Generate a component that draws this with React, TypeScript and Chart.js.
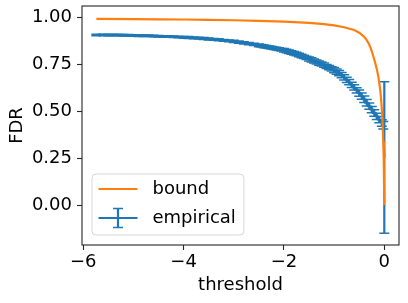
import { useEffect, useRef } from "react";
import { Chart, registerables } from "chart.js";

Chart.register(...registerables);

const seriesLabels = ["bound", "empirical"];
const seriesColors = ["#ff7f0e", "#1f77b4"];

const boundThreshold = [
  -5.74, -5.0, -4.5, -4.0, -3.5, -3.0, -2.5, -2.0, -1.5, -1.2, -1.0, -0.8, -0.6, -0.5,
  -0.4, -0.35, -0.3, -0.25, -0.2, -0.15, -0.12, -0.1, -0.08, -0.06, -0.04, -0.02, -0.01, 0,
];
const boundFDR = [
  0.991, 0.99, 0.989, 0.988, 0.986, 0.984, 0.981, 0.977, 0.97, 0.963, 0.957, 0.947, 0.932, 0.918,
  0.896, 0.878, 0.855, 0.82, 0.775, 0.725, 0.685, 0.65, 0.61, 0.55, 0.47, 0.34, 0.22, 0.0,
];

const empThreshold = [
  -5.74, -5.6, -5.5, -5.4, -5.3, -5.2, -5.1, -5.0, -4.9, -4.8, -4.7, -4.6, -4.5, -4.4, -4.3, -4.2, -4.1,
  -4.0, -3.9, -3.8, -3.7, -3.6, -3.5, -3.4, -3.3, -3.2, -3.1,
  -3.0, -2.9, -2.8, -2.7, -2.6,
  -2.5, -2.45, -2.4, -2.35, -2.3, -2.25, -2.2, -2.15, -2.1, -2.05,
  -2.0, -1.95, -1.9, -1.85, -1.8, -1.75, -1.7, -1.65, -1.6, -1.55,
  -1.5, -1.45, -1.4, -1.35, -1.3, -1.25, -1.2, -1.15, -1.1, -1.05,
  -1.0, -0.95, -0.9, -0.85, -0.8, -0.75, -0.7, -0.65, -0.6, -0.55,
  -0.5, -0.45, -0.4, -0.35, -0.3, -0.25, -0.2, -0.15, -0.1, -0.05,
  -0.02, 0,
];
const empFDR = [
  0.906, 0.906, 0.905, 0.905, 0.905, 0.904, 0.904, 0.903, 0.902, 0.902, 0.901, 0.9, 0.899, 0.898, 0.897, 0.896, 0.895,
  0.893, 0.892, 0.89, 0.889, 0.887, 0.884, 0.882, 0.88, 0.877, 0.874,
  0.871, 0.868, 0.864, 0.86, 0.855,
  0.85, 0.848, 0.845, 0.843, 0.84, 0.838, 0.835, 0.833, 0.83, 0.827,
  0.824, 0.82, 0.816, 0.812, 0.808, 0.804, 0.799, 0.794, 0.789, 0.784,
  0.778, 0.773, 0.767, 0.762, 0.756, 0.751, 0.745, 0.738, 0.732, 0.725,
  0.718, 0.71, 0.702, 0.692, 0.68, 0.667, 0.654, 0.64, 0.626, 0.611,
  0.596, 0.58, 0.563, 0.545, 0.527, 0.508, 0.49, 0.472, 0.455, 0.437,
  0.425, 0.253,
];
const empErr = [
  0.004, 0.004, 0.004, 0.004, 0.004, 0.004, 0.004, 0.004, 0.004, 0.004, 0.004, 0.004, 0.004, 0.004, 0.004, 0.004, 0.004,
  0.005, 0.005, 0.005, 0.005, 0.005, 0.005, 0.005, 0.005, 0.005, 0.005,
  0.006, 0.006, 0.006, 0.006, 0.006,
  0.007, 0.007, 0.007, 0.007, 0.007, 0.007, 0.007, 0.007, 0.007, 0.007,
  0.009, 0.009, 0.009, 0.009, 0.009, 0.009, 0.009, 0.009, 0.009, 0.009,
  0.011, 0.011, 0.011, 0.011, 0.011, 0.011, 0.011, 0.011, 0.011, 0.011,
  0.014, 0.014, 0.014, 0.014, 0.014, 0.014, 0.014, 0.014, 0.014, 0.014,
  0.017, 0.017, 0.017, 0.017, 0.017, 0.017, 0.017, 0.017, 0.017, 0.017,
  0.02, 0.403,
];

const xTicks = [-6, -4, -2, 0];
const yTicks = [0, 0.25, 0.5, 0.75, 1.0];
const xTitle = "threshold";
const yTitle = "FDR";

const FONT = "'DejaVu Sans', sans-serif";
const FS = 18;
const LW = 2.2;
const CAP = 5;

const errorBarPlugin = {
  id: "errorBars",
  afterDatasetDraw(chart: any, args: any) {
    if (args.index !== 1) return;
    const { ctx, chartArea: ca } = chart;
    const xs = chart.scales.x;
    const ys = chart.scales.y;
    ctx.save();
    ctx.beginPath();
    ctx.rect(ca.left, ca.top, ca.right - ca.left, ca.bottom - ca.top);
    ctx.clip();
    ctx.strokeStyle = seriesColors[1];
    for (let i = 0; i < empThreshold.length; i++) {
      const px = xs.getPixelForValue(empThreshold[i]);
      const y1 = ys.getPixelForValue(empFDR[i] - empErr[i]);
      const y2 = ys.getPixelForValue(empFDR[i] + empErr[i]);
      ctx.lineWidth = LW;
      ctx.beginPath();
      ctx.moveTo(px, y1);
      ctx.lineTo(px, y2);
      ctx.stroke();
      ctx.lineWidth = 1.5;
      ctx.beginPath();
      ctx.moveTo(px - CAP, y1);
      ctx.lineTo(px + CAP, y1);
      ctx.moveTo(px - CAP, y2);
      ctx.lineTo(px + CAP, y2);
      ctx.stroke();
    }
    ctx.restore();
  },
};

const frameLegendPlugin = {
  id: "frameLegend",
  afterDraw(chart: any) {
    const { ctx, chartArea: ca } = chart;
    ctx.save();
    ctx.strokeStyle = "#262626";
    ctx.lineWidth = 1.1;
    ctx.strokeRect(ca.left, ca.top, ca.right - ca.left, ca.bottom - ca.top);

    // legend
    ctx.font = `${FS}px ${FONT}`;
    const labels = chart.data.datasets.map((d: any) => d.label as string);
    const textW = Math.max(...labels.map((l: string) => ctx.measureText(l).width));
    const boxL = ca.left + 10;
    const boxB = ca.bottom - 10;
    const boxT = boxB - 61;
    const handleL = boxL + 6.5;
    const handleR = handleL + 39;
    const textX = handleR + 15;
    const boxR = textX + textW + 8;
    const r = 4;
    ctx.beginPath();
    ctx.moveTo(boxL + r, boxT);
    ctx.lineTo(boxR - r, boxT);
    ctx.arcTo(boxR, boxT, boxR, boxT + r, r);
    ctx.lineTo(boxR, boxB - r);
    ctx.arcTo(boxR, boxB, boxR - r, boxB, r);
    ctx.lineTo(boxL + r, boxB);
    ctx.arcTo(boxL, boxB, boxL, boxB - r, r);
    ctx.lineTo(boxL, boxT + r);
    ctx.arcTo(boxL, boxT, boxL + r, boxT, r);
    ctx.closePath();
    ctx.fillStyle = "rgba(255,255,255,0.8)";
    ctx.fill();
    ctx.strokeStyle = "rgba(204,204,204,0.8)";
    ctx.lineWidth = 1;
    ctx.stroke();

    const rows = [boxT + 15, boxT + 44];
    chart.data.datasets.forEach((d: any, i: number) => {
      const y = rows[i];
      ctx.strokeStyle = d.borderColor;
      ctx.lineWidth = LW;
      ctx.beginPath();
      ctx.moveTo(handleL, y);
      ctx.lineTo(handleR, y);
      ctx.stroke();
      if (i === 1) {
        const cx = (handleL + handleR) / 2;
        ctx.beginPath();
        ctx.moveTo(cx, y - 9.5);
        ctx.lineTo(cx, y + 9.5);
        ctx.stroke();
        ctx.lineWidth = 1.5;
        ctx.beginPath();
        ctx.moveTo(cx - CAP, y - 9.5);
        ctx.lineTo(cx + CAP, y - 9.5);
        ctx.moveTo(cx - CAP, y + 9.5);
        ctx.lineTo(cx + CAP, y + 9.5);
        ctx.stroke();
      }
      ctx.fillStyle = "#000";
      ctx.textBaseline = "middle";
      ctx.textAlign = "left";
      ctx.fillText(d.label, textX, y);
    });
    ctx.restore();
  },
};

function fmtX(v: number) {
  if (v === 0) return "0";
  return (v < 0 ? "\u2212" : "") + String(Math.abs(v));
}

export default function App() {
  const ref = useRef<HTMLCanvasElement | null>(null);
  useEffect(() => {
    document.body.style.margin = "0";
    if (!ref.current) return;
    const chart = new Chart(ref.current, {
      type: "scatter",
      data: {
        datasets: [
          {
            label: seriesLabels[0],
            data: boundThreshold.map((x, i) => ({ x, y: boundFDR[i] })),
            showLine: true,
            borderColor: seriesColors[0],
            backgroundColor: seriesColors[0],
            borderWidth: LW,
            pointRadius: 0,
            tension: 0,
          },
          {
            label: seriesLabels[1],
            data: empThreshold.map((x, i) => ({ x, y: empFDR[i] })),
            showLine: true,
            borderColor: seriesColors[1],
            backgroundColor: seriesColors[1],
            borderWidth: LW,
            pointRadius: 0,
            tension: 0,
          },
        ],
      },
      options: {
        responsive: false,
        animation: false,
        events: [],
        layout: { padding: { top: 6, right: 9, left: 0, bottom: 0 } },
        plugins: { legend: { display: false }, tooltip: { enabled: false } },
        scales: {
          x: {
            type: "linear",
            min: -6.026,
            max: 0.293,
            afterBuildTicks: (s: any) => {
              s.ticks = xTicks.map((v) => ({ value: v }));
            },
            afterFit: (s: any) => {
              s.height = 58;
              s.paddingLeft = 0;
              s.paddingRight = 0;
              s.paddingTop = 0;
              s.paddingBottom = 0;
            },
            ticks: {
              callback: (v: any) => fmtX(Number(v)),
              font: { family: FONT, size: FS },
              color: "#000",
              padding: 2,
              maxRotation: 0,
              autoSkip: false,
            },
            grid: {
              display: true,
              drawOnChartArea: false,
              drawTicks: true,
              tickLength: 5,
              tickWidth: 1.1,
              tickColor: "#262626",
            },
            border: { display: false },
            title: {
              display: true,
              text: xTitle,
              font: { family: FONT, size: FS },
              color: "#000",
              padding: { top: 0, bottom: 6.5 },
            },
          },
          y: {
            type: "linear",
            min: -0.213,
            max: 1.06,
            afterBuildTicks: (s: any) => {
              s.ticks = yTicks.map((v) => ({ value: v }));
            },
            afterFit: (s: any) => {
              s.width = 82;
              s.paddingLeft = 0;
              s.paddingRight = 0;
              s.paddingTop = 0;
              s.paddingBottom = 0;
            },
            ticks: {
              callback: (v: any) => Number(v).toFixed(2),
              font: { family: FONT, size: FS },
              color: "#000",
              padding: 5,
              autoSkip: false,
            },
            grid: {
              display: true,
              drawOnChartArea: false,
              drawTicks: true,
              tickLength: 5,
              tickWidth: 1.1,
              tickColor: "#262626",
            },
            border: { display: false },
            title: {
              display: true,
              text: yTitle,
              font: { family: FONT, size: FS },
              color: "#000",
              padding: { top: 6.5, bottom: 0 },
            },
          },
        },
      },
      plugins: [errorBarPlugin, frameLegendPlugin],
    });
    return () => chart.destroy();
  }, []);
  return (
    <div style={{ width: 408, height: 303 }}>
      <canvas ref={ref} width={408} height={303} style={{ display: "block" }} />
    </div>
  );
}
